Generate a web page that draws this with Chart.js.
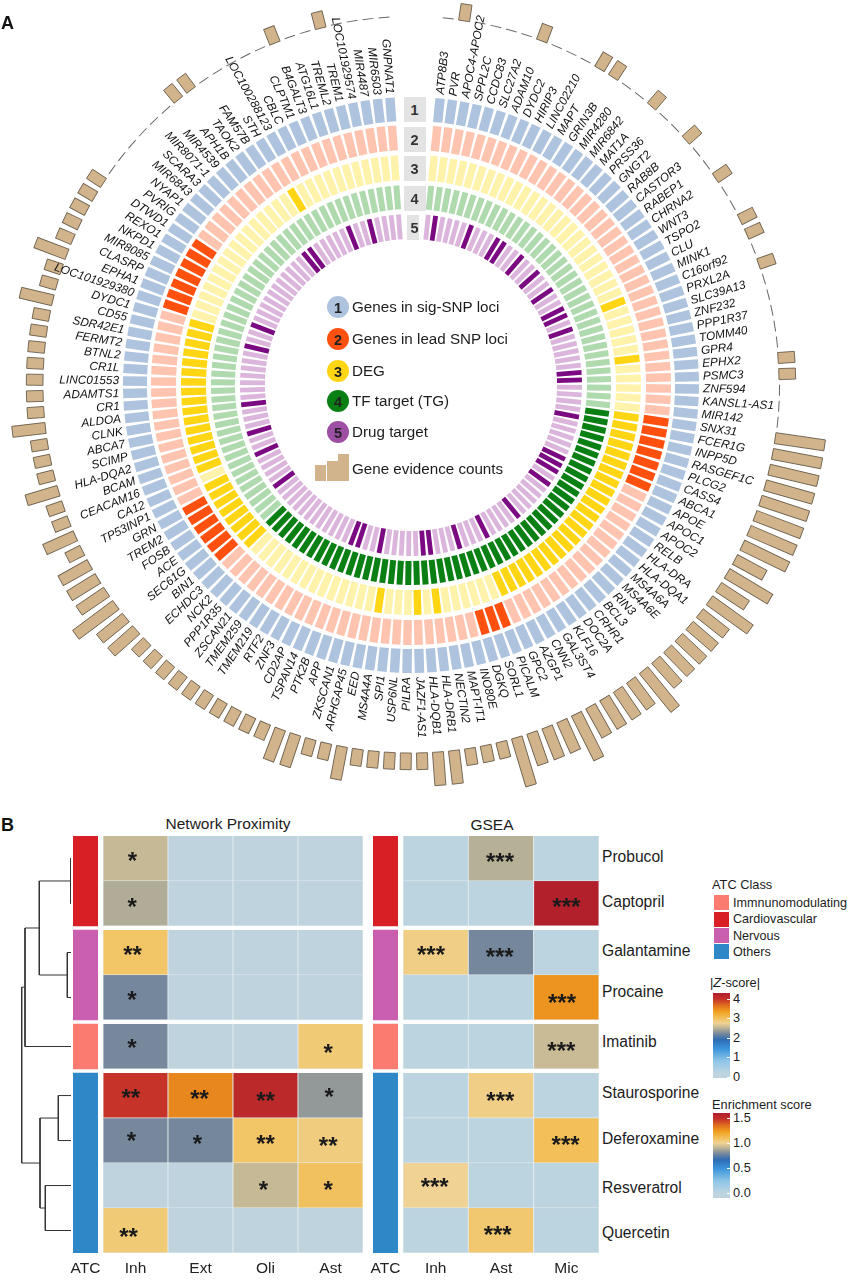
<!DOCTYPE html>
<html>
<head>
<meta charset="utf-8">
<script src="https://cdn.jsdelivr.net/npm/chart.js@4/dist/chart.umd.js"></script>
<style>
html,body{margin:0;padding:0;background:#fff;}
#root{position:relative;width:851px;height:1280px;overflow:hidden;font-family:"Liberation Sans",Arial,sans-serif;color:#1c1c1c;}
canvas{position:absolute;display:block;}
.t{position:absolute;white-space:nowrap;transform:translateY(-50%);line-height:1;}
.b{position:absolute;}
</style>
</head>
<body>
<div id="root"></div>
<script>
/* ---------- Panel A data ---------- */
const genes = ["ATP8B3","PVR","APOC4-APOC2","SPPL2C","CCDC83","SLC27A2","ADAM10","DYDC2","HIRIP3","LINC02210",
"MAPT","GRIN3B","MIR4280","MIR6842","MAT1A","PRSS36","GNGT2","RAB8B","CASTOR3","RABEP1",
"CHRNA2","WNT3","TSPO2","CLU","MINK1","C16orf92","PRXL2A","SLC39A13","ZNF232","PPP1R37",
"TOMM40","GPR4","EPHX2","PSMC3","ZNF594","KANSL1-AS1","MIR142","SNX31","FCER1G","INPP5D",
"RASGEF1C","PLCG2","CASS4","ABCA1","APOE","APOC1","APOC2","RELB","HLA-DRA","HLA-DQA1",
"MS4A6A","MS4A6E","RIN3","BCL3","CRHR1","DOC2A","KLF16","GAL3ST4","CNN2","AZGP1",
"GPC2","PICALM","SORL1","DGKQ","INO80E","MAPT-IT1","NECTIN2","HLA-DRB1","HLA-DQB1","JAZF1-AS1",
"PILRA","USP6NL","SPI1","MS4A4A","EED","ARHGAP45","ZKSCAN1","APP","PTK2B","TSPAN14",
"CD2AP","ZNF3","RTF2","TMEM219","TMEM259","ZSCAN21","PPP1R35","NCK2","ECHDC3","BIN1",
"SEC61G","ACE","FOSB","TREM2","GRN","TP53INP1","CA12","CEACAM16","BCAM","HLA-DQA2",
"SCIMP","ABCA7","CLNK","ALDOA","CR1","ADAMTS1","LINC01553","CR1L","BTNL2","FERMT2",
"SDR42E1","CD55","DYDC1","LOC101929380","EPHA1","CLASRP","MIR8085","NKPD1","REXO1","DTWD1",
"PVRIG","NYAP1","MIR6843","SCARA3","MIR8071-1","MIR4539","APH1B","TAOK2","FAM57B","STH",
"LOC100288123","CBLC","CLPTM1","B4GALT3","ATG16L1","TREML2","TREM1","LOC101929574","MIR4487","MIR6503","GNPNAT1"];

const evidenceCounts = [
0,1,0,0,0,0,1,0,0,0,
1,1,0,0,1,0,0,1,0,0,
1,0,0,1,1,0,1,0,0,0,
0,0,1,1,0,0,0,3,3,3,
3,3,3,3,3,2,3,2,3,2,
2,2,2,2,3,2,2,2,2,3,
2,2,2,3,1,1,1,2,2,1,
1,1,1,1,2,1,1,2,2,1,
1,1,1,1,1,1,1,1,1,2,
2,3,2,2,2,1,2,1,1,2,
1,1,1,2,1,1,1,1,1,1,
1,2,1,1,2,1,1,1,1,1,
0,0,0,0,0,0,1,1,0,0,
0,0,0,1,0,0,1,0,0,0,0];

const leadSnpHits = [37,38,39,40,41,42,43,61,62,63,89,90,91,92,93,94,113,114,115,116,117,118,119];
const degHits = [25,31,37,38,39,40,41,42,43,44,45,46,47,48,49,50,51,52,53,54,55,56,57,58,59,60,67,69,73,
88,89,90,91,92,93,94,95,97,98,99,100,101,102,103,104,105,106,107,108,109,110,111,112,129];
const tfTargetHits = [37,38,39,40,41,42,43,44,45,46,47,48,49,50,51,52,53,54,55,56,57,58,59,60,61,62,
63,64,65,66,67,68,69,70,71,72,73,74,75,76,77,78,79,80,81,82,83,84,85,86,87,88];
const drugTargetHits = [1,6,10,11,14,17,20,23,24,26,32,33,38,44,45,46,48,54,59,63,67,68,74,77,78,91,96,99,103,111,114,126,127,133,136];

/* ---------- Panel B data ---------- */
const proximityCols = ["Inh","Ext","Oli","Ast"];
const gseaCols = ["Inh","Ast","Mic"];
const drugs = ["Probucol","Captopril","Galantamine","Procaine","Imatinib","Staurosporine","Deferoxamine","Resveratrol","Quercetin"];
const proximityZ = [
[2.54,0,0,0],[2.45,0,0,0],[2.94,0,0,0],[2.19,0,0,0],[2.2,0,0,2.87],
[3.97,3.5,4.12,2.32],[2.2,2.19,2.94,2.83],[0,0,2.54,2.98],[2.87,0,0,0]];
const proximityStars = [
["*","","",""],["*","","",""],["**","","",""],["*","","",""],["*","","","*"],
["**","**","**","*"],["*","*","**","**"],["","","*","*"],["**","","",""]];
const gseaScore = [
[0,0.9,0],[0,0,1.6],[1.03,0.79,0],[0,0,1.27],[0,0,0.93],
[0,1.03,0],[0,0,1.11],[1.005,0,0],[0,1.065,0]];
const gseaStars = [
["","***",""],["","","***"],["***","***",""],["","","***"],["","","***"],
["","***",""],["","","***"],["***","",""],["","***",""]];
const atcClasses = ["Immnunomodulating","Cardiovascular","Nervous","Others"];
const atcGroups = [[0,2],[2.09,4.09],[4.18,5.18],[5.27,9.27]];
const rowStarts = [0,1,2.09,3.09,4.18,5.27,6.27,7.27,8.27];
const zTicks = ["4","3","2","1","0"];
const enrichTicks = ["1.5","1.0","0.5","0.0"];
/* dendrogram: [height1,row1,height2,row2] */
const dendroSegments = [
[0,.5,.3,.5],[0,1.5,.3,1.5],[.3,.5,.3,1.5],[.3,1,31.7,1],
[0,2.59,3.7,2.59],[0,3.59,3.7,3.59],[3.7,2.59,3.7,3.59],[3.7,3.09,31.7,3.09],
[31.7,1,31.7,3.09],[31.7,2.045,46,2.045],[0,4.68,46,4.68],[46,2.045,46,4.68],[46,3.36,49.3,3.36],
[0,5.77,12.7,5.77],[0,6.77,12.7,6.77],[12.7,5.77,12.7,6.77],[12.7,6.27,31,6.27],
[0,7.77,25.7,7.77],[0,8.77,25.7,8.77],[25.7,7.77,25.7,8.77],[25.7,8.27,31,8.27],
[31,6.27,31,8.27],[31,7.27,49.3,7.27],[49.3,3.36,49.3,7.27]];

/* ---------- Styles ---------- */
const root = document.getElementById('root');
const FONT = '"Liberation Sans",Arial,sans-serif';
const GRAD = [[0,'#BFD3DD'],[.06,'#BCD4E0'],[.2,'#8FC6E8'],[.35,'#3A93DB'],[.45,'#2F6CB2'],[.52,'#75879C'],[.6,'#C7BA95'],[.645,'#EFD294'],[.69,'#F2C566'],[.78,'#F0A21F'],[.85,'#E0701E'],[.93,'#C4302A'],[1,'#B01F2B']];
const ATC_COL = ['#FB7B70','#D81F26','#C95FAE','#2E88C8'];
const ATC_BLOCK = ['#D81F26','#C95FAE','#FB7B70','#2E88C8'];
/* hand placement of the asterisks inside their cells, as in the source figure: [dx,dy] in px */
const proxStarNudge = {
 "0,0":[-3,.7],"1,0":[-3.3,1],"2,0":[-3,.7],"3,0":[-3.7,.3],"4,0":[-3.7,-.3],"4,3":[-2.3,4],
 "5,0":[-4.7,.7],"5,1":[-1,1.3],"5,2":[0,3],"5,3":[-1.3,-.7],"6,0":[-4,-1.3],"6,1":[-3,1.7],"6,2":[0,1],"6,3":[-2.3,3],
 "7,2":[-2,2],"7,3":[-2.3,2.3],"8,0":[-7,4.3]};
const gseaStarNudge = {
 "0,1":[-1,1],"1,2":[0,1],"2,0":[-4.7,.7],"2,1":[-1.3,2.7],"3,2":[-4.3,3],"4,2":[-5,2.3],
 "5,1":[-.7,3],"6,2":[-.7,2],"7,0":[-1,-.3],"8,1":[-3.3,2.3]};
function hex(c){return [1,3,5].map(i=>parseInt(c.substr(i,2),16));}
function gradColor(t){
  t=Math.max(0,Math.min(1,t));
  for(let i=1;i<GRAD.length;i++){ if(t<=GRAD[i][0]){
    const a=GRAD[i-1],b=GRAD[i],f=(t-a[0])/(b[0]-a[0]),A=hex(a[1]),B=hex(b[1]);
    return 'rgb('+A.map((v,k)=>Math.round(v+(B[k]-v)*f)).join(',')+')';
  }}
  return GRAD[GRAD.length-1][1];
}
const zColor = v => gradColor(.02+.228*v);
const eColor = v => gradColor(.058+.584*v);

function text(s,x,y,size,o={}){
  const d=document.createElement('div');d.className='t';d.innerHTML=s;
  d.style.left=x+'px';d.style.top=y+'px';d.style.fontSize=size+'px';
  if(o.bold)d.style.fontWeight='bold';
  if(o.center)d.style.transform='translate(-50%,-50%)';
  if(o.color)d.style.color=o.color;
  root.appendChild(d);return d;
}
function box(x,y,w,h,bg,o={}){
  const d=document.createElement('div');d.className='b';
  d.style.cssText+=`left:${x}px;top:${y}px;width:${w}px;height:${h}px;background:${bg};`;
  if(o.round)d.style.borderRadius='50%';
  root.appendChild(d);return d;
}
function canvas(x,y,w,h){
  const c=document.createElement('canvas');c.width=w;c.height=h;
  c.style.left=x+'px';c.style.top=y+'px';c.style.width=w+'px';c.style.height=h+'px';
  root.appendChild(c);return c;
}

/* ---------- Panel A: concentric doughnut ---------- */
const GAP_UNITS = 3;
const sliceValues = genes.map(()=>1).concat([GAP_UNITS]);
const sliceLabels = genes.concat([""]);
const START_DEG = 4.55;
const CLEAR='rgba(0,0,0,0)';
function ringColors(hits,on,off){
  const s=new Set(hits);
  return genes.map((g,i)=>s.has(i)?on:off).concat([CLEAR]);
}
const BAR_BASE=368, BAR_UNIT=16.67, BAR_W=11;
/* inner radius, outer radius, bar width of each ring */
const RINGS=[[264,288,9.4],[235,260,8.4],[205,230,7.4],[176,200,6],[146,171,4.8]];
const ringStyle={borderWidth:0,clip:false};
const datasets=[
 {label:'Gene evidence counts',data:sliceValues,clip:false,
  backgroundColor:evidenceCounts.map(v=>v>0?'#D2B48C':'#666666').concat([CLEAR]),
  borderColor:evidenceCounts.map(v=>v>0?'#6E6250':CLEAR).concat([CLEAR]),
  borderWidth:evidenceCounts.map(v=>v>0?0.9:0).concat([0])},
 {label:'Genes in sig-SNP loci',data:sliceValues,backgroundColor:genes.map(()=>'#AEC3DE').concat([CLEAR]),...ringStyle},
 {label:'Genes in lead SNP loci',data:sliceValues,backgroundColor:ringColors(leadSnpHits,'#FF5010','#FFC4B0'),...ringStyle},
 {label:'DEG',data:sliceValues,backgroundColor:ringColors(degHits,'#FFD514','#FFF2AB'),...ringStyle},
 {label:'TF target (TG)',data:sliceValues,backgroundColor:ringColors(tfTargetHits,'#0A7F14','#AEDAAE'),...ringStyle},
 {label:'Drug target',data:sliceValues,backgroundColor:ringColors(drugTargetHits,'#7B0A82','#DCB5DC'),...ringStyle}
];
const ringPlugin={id:'rings',
  afterDatasetsUpdate(chart){
    chart.data.datasets.forEach((ds,di)=>{
      chart.getDatasetMeta(di).data.forEach((a,i)=>{
        if(di===0){
          const v=evidenceCounts[i]||0;
          a.innerRadius=BAR_BASE; a.outerRadius=BAR_BASE+(v>0?v*BAR_UNIT:1);
        }else{
          a.innerRadius=RINGS[di-1][0]; a.outerRadius=RINGS[di-1][1];
        }
      });
    });
  },
  /* the source figure uses straight-sided radial bars: draw each slice of the
     library's arc elements as a rectangle on that element's own angle and radii */
  beforeDatasetDraw(chart,args){
    const di=args.index, ctx=chart.ctx, w=di===0?BAR_W:RINGS[di-1][2];
    args.meta.data.forEach((a,i)=>{
      if(i>=genes.length)return;
      const mid=(a.startAngle+a.endAngle)/2, o=a.options;
      ctx.save();ctx.translate(a.x,a.y);ctx.rotate(mid);
      ctx.fillStyle=o.backgroundColor;
      ctx.fillRect(a.innerRadius,-w/2,a.outerRadius-a.innerRadius,w);
      if(o.borderWidth>0){ctx.strokeStyle=o.borderColor;ctx.lineWidth=o.borderWidth;
        ctx.strokeRect(a.innerRadius,-w/2,a.outerRadius-a.innerRadius,w);}
      ctx.restore();
    });
    return false;
  },
  afterDatasetsDraw(chart){
    const ctx=chart.ctx, arcs=chart.getDatasetMeta(1).data;
    ctx.save();
    ctx.font='italic 11.8px '+FONT; ctx.fillStyle='#111'; ctx.textBaseline='middle';
    genes.forEach((g,i)=>{
      const a=arcs[i], mid=(a.startAngle+a.endAngle)/2, R=292;
      const x=a.x+Math.cos(mid)*R, y=a.y+Math.sin(mid)*R;
      const deg=((mid+Math.PI/2)*180/Math.PI+720)%360;
      ctx.save();ctx.translate(x,y);
      if(deg<=180){ctx.rotate(mid);ctx.textAlign='left';}
      else{ctx.rotate(mid+Math.PI);ctx.textAlign='right';}
      ctx.fillText(g,0,0);ctx.restore();
    });
    ctx.restore();
  }
};
new Chart(canvas(0,0,851,800),{
  type:'doughnut',
  data:{labels:sliceLabels,datasets},
  options:{responsive:false,animation:false,rotation:START_DEG,cutout:'30%',
    layout:{padding:{left:0,top:0,right:29,bottom:30}},
    plugins:{legend:{display:false},tooltip:{enabled:false}}},
  plugins:[ringPlugin]
});

/* number boxes in the gap */
[[404,97,22,25],[404,127,22,25],[404,156,22,25],[404,186,22,25],[407,215,12,25]].forEach((b,i)=>{
  box(b[0],b[1],b[2],b[3],'#E3E3E3');
  text(String(i+1),414.5,b[1]+12.5,14.5,{bold:true,center:true,color:'#333'});
});
text('A',1,23,18,{bold:true,color:'#111'});
text('B',1,825,18,{bold:true,color:'#111'});

/* centre legend */
const centreLegend=[["Genes in sig-SNP loci",'#AEC3DE',307],["Genes in lead SNP loci",'#FF5010',339],["DEG",'#FFD514',371],["TF target (TG)",'#0A7F14',401],["Drug target",'#9C4FA3',432]];
centreLegend.forEach((l,i)=>{
  box(327,l[2]-11,22,22,l[1],{round:true});
  text(String(i+1),338,l[2]+.5,14.5,{bold:true,center:true,color:'#222'});
  text(l[0],352,l[2],15.2);
});
box(315,465,11,16,'#D2B48C');box(327,461,11,20,'#D2B48C');box(338,454,11,27,'#D2B48C');
text('Gene evidence counts',352,469,15.2);

/* ---------- Panel B charts ---------- */
const CH_TOP=836, CH_H=444, AXIS_H=27, ROW_MAX=9.27;
function rowAxis(){return {display:false,min:0,max:ROW_MAX,reverse:true,stacked:false};}
function xAxis(labels){return {type:'category',labels,offset:true,grid:{display:false,drawTicks:false},border:{display:false},
  ticks:{color:'#222',font:{size:15.5,family:FONT},padding:6,maxRotation:0,autoSkip:false},
  afterFit(s){s.height=AXIS_H;s.paddingLeft=0;s.paddingRight=0;}};}

function starsPlugin(stars,nudge){return {id:'stars',afterDatasetsDraw(chart){
  const ctx=chart.ctx;ctx.save();
  ctx.font='bold 24px '+FONT;ctx.fillStyle='#1a1a1a';ctx.textAlign='center';ctx.textBaseline='middle';
  stars.forEach((row,r)=>row.forEach((s,c)=>{
    if(!s)return;
    const el=chart.getDatasetMeta(r).data[c], n=nudge[r+','+c]||[0,0];
    ctx.fillText(s,el.x+n[0],(el.y+el.base)/2+n[1]+3.5);
  }));
  ctx.restore();
}};}

function heat(left,width,cols,values,stars,colorFn,nudge){
  new Chart(canvas(left,CH_TOP,width,CH_H),{
    type:'bar',
    data:{labels:cols,datasets:values.map((row,r)=>({
      label:drugs[r],
      data:row.map(()=>[rowStarts[r],rowStarts[r]+1]),
      backgroundColor:row.map(colorFn),
      borderColor:'#E4ECEF',borderWidth:0.8,
      barPercentage:1,categoryPercentage:1,grouped:false
    }))},
    options:{responsive:false,animation:false,layout:{padding:0},
      scales:{x:xAxis(cols),y:rowAxis()},
      plugins:{legend:{display:false},tooltip:{enabled:false}}},
    plugins:[starsPlugin(stars,nudge)]
  });
}
heat(103,260,proximityCols,proximityZ,proximityStars,zColor,proxStarNudge);
heat(403,196,gseaCols,gseaScore,gseaStars,eColor,gseaStarNudge);

function strip(left){
  const pad=12;
  new Chart(canvas(left-pad,CH_TOP,25+2*pad,CH_H),{
    type:'bar',
    data:{labels:['ATC'],datasets:atcGroups.map((g,i)=>({
      data:[g],backgroundColor:ATC_BLOCK[i],borderWidth:0,barPercentage:1,categoryPercentage:1,grouped:false}))},
    options:{responsive:false,animation:false,layout:{padding:{left:pad,right:pad}},
      scales:{x:xAxis(['ATC']),y:rowAxis()},
      plugins:{legend:{display:false},tooltip:{enabled:false}}}
  });
}
strip(73);strip(373);

new Chart(canvas(21,CH_TOP,50,417),{
  type:'scatter',
  data:{datasets:dendroSegments.map(s=>({
    data:[{x:s[0],y:s[1]},{x:s[2],y:s[3]}],showLine:true,borderColor:'#333',borderWidth:1,pointRadius:0,clip:false}))},
  options:{responsive:false,animation:false,layout:{padding:0},
    scales:{x:{display:false,type:'linear',min:0,max:50,reverse:true},y:{display:false,type:'linear',min:0,max:ROW_MAX,reverse:true}},
    plugins:{legend:{display:false},tooltip:{enabled:false}}}
});

/* titles + row names */
text('Network Proximity',228,824,15.5,{center:true});
text('GSEA',492,825,15.5,{center:true});
const drugY=[857,902,951,992,1042,1093,1139,1188,1233];
drugs.forEach((d,i)=>text(d,602,drugY[i],15.6));

/* ATC legend */
text('ATC Class',712,885,12.8);
[[895,15],[911.5,15.5],[928,15],[944,14.5]].forEach((s,i)=>box(714,s[0],15,s[1],ATC_COL[i]));
[903,919,936,952].forEach((y,i)=>text(atcClasses[i],733,y,12.6));

/* colour bars */
function colorbar(y0,h,tickYs,labels){
  const css=GRAD.map(g=>g[1]+' '+(g[0]*100)+'%').join(',');
  const b=box(713,y0,17,h,'none');b.style.background='linear-gradient(to top,'+css+')';
  tickYs.forEach((y,i)=>{
    box(726.5,y-.5,3.5,1,'#fff');
    text(labels[i],733,y,12.8);
  });
}
text('|<i>Z</i>-score|',710,983,12.8);
colorbar(993,85,[999,1018,1038,1057,1077],zTicks);
text('Enrichment score',712,1105,12.8);
colorbar(1113,85,[1118,1143,1168,1193],enrichTicks);
</script>
</body>
</html>
